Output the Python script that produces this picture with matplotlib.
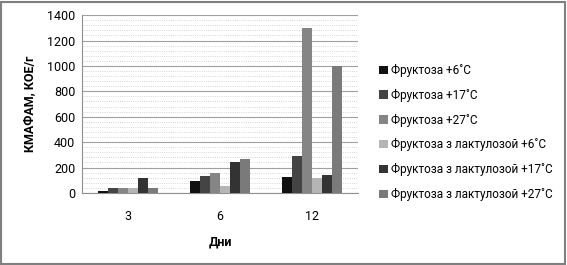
import matplotlib.pyplot as plt
import numpy as np

plt.rcParams['font.family'] = ['Roboto', 'DejaVu Sans']

days = ["3", "6", "12"]
labels = ["Фруктоза +6˚С", "Фруктоза +17˚С", "Фруктоза +27˚С",
          "Фруктоза з лактулозой +6˚С", "Фруктоза з лактулозой +17˚С",
          "Фруктоза з лактулозой +27˚С"]
f6 = [15, 95, 125]
f17 = [40, 130, 290]
f27 = [35, 160, 1300]
fl6 = [35, 55, 120]
fl17 = [120, 240, 145]
fl27 = [35, 270, 1000]
series = [f6, f17, f27, fl6, fl17, fl27]
colors = ["#111111", "#444444", "#858585", "#b5b5b5", "#333333", "#7a7a7a"]

fig = plt.figure(figsize=(5.67, 2.65), dpi=100)
ax = fig.add_axes([0.145, 0.272, 0.486, 0.671])

x = np.arange(len(days))
w = 0.11
for i, (vals, c) in enumerate(zip(series, colors)):
    ax.bar(x + (i - 2.5) * w, vals, w, color=c, label=labels[i], zorder=3)

ax.set_xlim(-0.5, 2.5)
ax.set_ylim(0, 1400)
ax.set_yticks(range(0, 1401, 200))
ax.set_yticks(range(0, 1401, 40), minor=True)
ax.grid(axis="y", which="major", color="#a0a0a0", lw=0.8, zorder=0)
ax.grid(axis="y", which="minor", color="#c8c8c8", lw=0.6, ls=":", zorder=0)
ax.set_xticks(x)
ax.set_xticklabels(days)
ax.tick_params(axis="x", length=0, pad=12, labelsize=9)
ax.tick_params(axis="y", which="both", length=0, labelsize=9, pad=5)
for s in ["top", "right"]:
    ax.spines[s].set_visible(False)
ax.spines["left"].set_color("#909090")
ax.spines["bottom"].set_color("#909090")
ax.set_ylabel("КМАФАМ, КОЕ/г", fontweight="bold", fontsize=9, labelpad=8)
ax.set_xlabel("Дни", fontweight="bold", fontsize=9, labelpad=9)

ax.legend(loc="center left", bbox_to_anchor=(1.04, 0.34), frameon=False,
          fontsize=8.5, handlelength=0.7, handleheight=0.7, handletextpad=0.3,
          labelspacing=1.0)

fig.patches.append(plt.Rectangle((0.002, 0.004), 0.994, 0.99, transform=fig.transFigure,
                                 fill=False, edgecolor="#808080", lw=1.5))

fig.savefig("out.png", dpi=100)
